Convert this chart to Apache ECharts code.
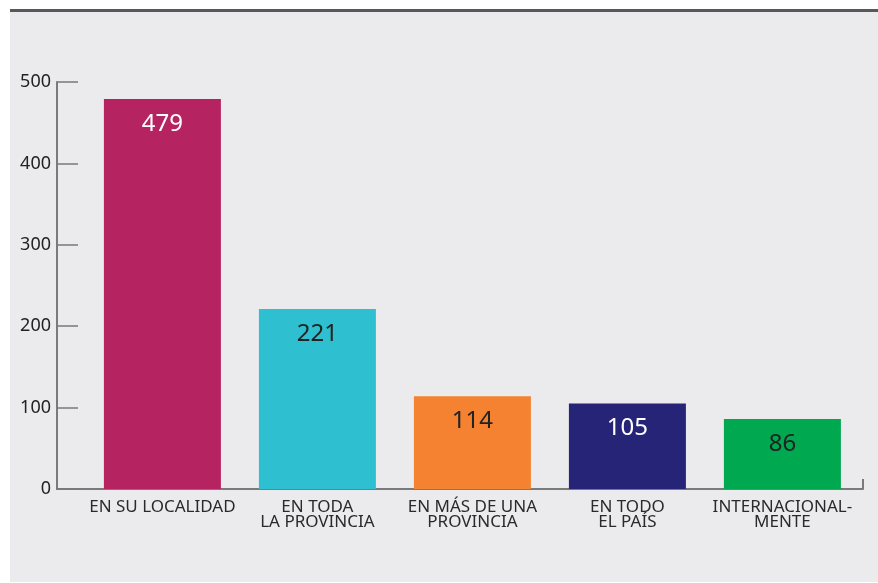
<!DOCTYPE html>
<html>
<head>
<meta charset="utf-8">
<script src="https://cdn.jsdelivr.net/npm/echarts@6/dist/echarts.min.js"></script>
<style>
	body { margin: 0; background: #fff; }
	#panel { position: absolute; left: 10px; top: 9px; width: 868px; height: 570px; background: #ebebee; border-top: 3px solid #58585a; }
	#chart { position: absolute; left: 0; top: 0; width: 878px; height: 583px; }
</style>
</head>
<body>
<div id="panel"></div>
<div id="chart"></div>
<script>
var categories = ['EN SU LOCALIDAD', 'EN TODA\nLA PROVINCIA', 'EN MÁS DE UNA\nPROVINCIA', 'EN TODO\nEL PAÍS', 'INTERNACIONAL-\nMENTE'];
var values = [479, 221, 114, 105, 86];
var barColors = ['#b52461', '#2ec0d0', '#f58230', '#262477', '#00a84f'];
var labelColors = ['#ffffff', '#222222', '#222222', '#ffffff', '#222222'];

var chart = echarts.init(document.getElementById('chart'));

var data = values.map(function (v, i) {
	return {
		value: [i, v],
		itemStyle: { color: barColors[i] },
		label: { color: labelColors[i] }
	};
});

var option = {
	animation: false,
	backgroundColor: 'transparent',
	textStyle: { fontFamily: 'Noto Sans' },
	grid: { left: 57, right: 15, top: 82, bottom: 94 },
	xAxis: {
		type: 'value',
		min: -0.68,
		max: 4.52,
		splitLine: { show: false },
		axisLine: { show: true, lineStyle: { color: '#7a7a7a', width: 2 } },
		axisTick: {
			show: true,
			inside: true,
			length: 10,
			customValues: [4.52],
			lineStyle: { color: '#7a7a7a', width: 2 }
		},
		axisLabel: {
			customValues: [0, 1, 2, 3, 4],
			formatter: function (v) { return categories[Math.round(v)]; },
			color: '#2a2a2a',
			fontSize: 17,
			lineHeight: 15,
			margin: 11,
			fontFamily: 'Noto Sans'
		}
	},
	yAxis: {
		type: 'value',
		min: 0,
		max: 500,
		interval: 100,
		splitLine: { show: false },
		axisLine: { show: true, onZero: false, lineStyle: { color: '#7a7a7a', width: 2 } },
		axisTick: { show: true, inside: true, length: 21, lineStyle: { color: '#7a7a7a', width: 1.5 } },
		axisLabel: {
			color: '#222',
			fontSize: 18,
			margin: 6,
			fontFamily: 'Noto Sans'
		}
	},
	series: [{
		type: 'bar',
		barWidth: 117,
		data: data,
		label: {
			show: true,
			position: 'insideTop',
			distance: 13,
			fontSize: 24,
			fontFamily: 'Noto Sans',
			formatter: function (p) { return p.value[1]; }
		}
	}]
};

chart.setOption(option);
</script>
</body>
</html>
